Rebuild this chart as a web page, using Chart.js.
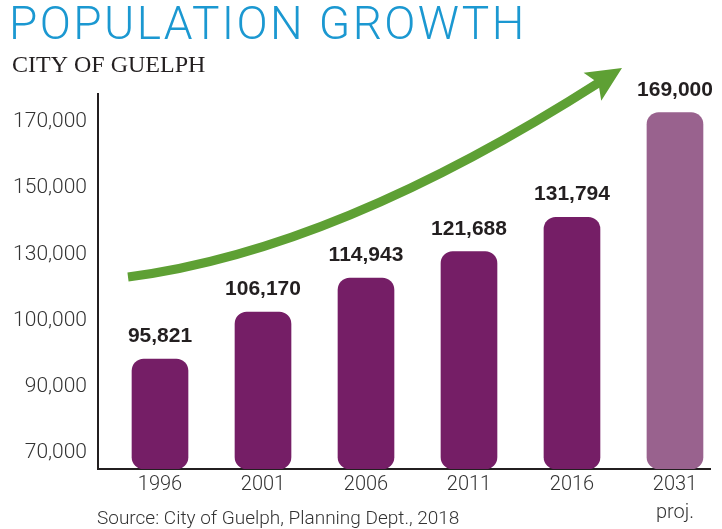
<!DOCTYPE html>
<html>
<head>
<meta charset="utf-8">
<title>Population Growth – City of Guelph</title>
<script src="https://cdn.jsdelivr.net/npm/chart.js@4"></script>
<style>
  html, body { margin: 0; padding: 0; background: #fff; overflow: hidden; }
  canvas { display: block; }
</style>
</head>
<body>
<canvas id="chart" width="722" height="529"></canvas>
<script>
const years = ['1996', '2001', '2006', '2011', '2016', '2031'];
const projected = [false, false, false, false, false, true];
const populations = [95821, 106170, 114943, 121688, 131794, 169000];
// bar tops as drawn in the infographic, in steps of the (uneven) y axis
const barLevels = [1.42, 2.13, 2.64, 3.04, 3.56, 5.14];
const yTickLabels = ['70,000', '90,000', '100,000', '130,000', '150,000', '170,000'];

const TITLE = 'POPULATION GROWTH';
const SUBTITLE = 'CITY OF GUELPH';
const SOURCE = 'Source: City of Guelph, Planning Dept., 2018';

const Y_MIN = -0.24;
const Y_MAX = 5.42;
const LIGHT = 'Roboto, "Liberation Sans", Arial, sans-serif';
const INK = '#231f20';

const headerPlugin = {
  id: 'header',
  afterDraw(chart) {
    const { ctx, chartArea } = chart;
    ctx.save();
    ctx.textAlign = 'left';
    ctx.textBaseline = 'alphabetic';
    ctx.fillStyle = '#1b98d1';
    ctx.font = `300 46px ${LIGHT}`;
    ctx.letterSpacing = '2.4px';
    ctx.fillText(TITLE, 9, 39);
    ctx.letterSpacing = '0px';
    ctx.fillStyle = INK;
    ctx.font = '24px "Liberation Serif", "Times New Roman", serif';
    ctx.fillText(SUBTITLE, 12, 72);
    ctx.fillStyle = '#333';
    ctx.font = `300 19px ${LIGHT}`;
    ctx.fillText(SOURCE, chartArea.left - 1, 524);
    ctx.restore();
  }
};

const valueLabels = {
  id: 'valueLabels',
  afterDatasetsDraw(chart) {
    const { ctx } = chart;
    ctx.save();
    ctx.font = 'bold 21px "Liberation Sans", Arial, sans-serif';
    ctx.fillStyle = INK;
    ctx.textAlign = 'center';
    ctx.textBaseline = 'alphabetic';
    chart.getDatasetMeta(0).data.forEach((bar, i) => {
      ctx.fillText(populations[i].toLocaleString('en-US'), bar.x, bar.y - 17);
    });
    ctx.restore();
  }
};

// decorative growth arrow
const arrowPlugin = {
  id: 'arrow',
  afterDraw(chart) {
    const { ctx } = chart;
    const tip = { x: 622, y: 68 };
    const dir = { x: 0.845, y: -0.535 };
    const base = { x: tip.x - dir.x * 35, y: tip.y - dir.y * 35 };
    const notch = { x: base.x + dir.x * 7, y: base.y + dir.y * 7 };
    const half = 16.5;
    ctx.save();
    ctx.strokeStyle = '#5ea034';
    ctx.fillStyle = '#5ea034';
    ctx.lineWidth = 9;
    ctx.lineCap = 'butt';
    ctx.beginPath();
    ctx.moveTo(128, 277);
    ctx.bezierCurveTo(300, 255, 470, 165, notch.x + dir.x * 2, notch.y + dir.y * 2);
    ctx.stroke();
    ctx.beginPath();
    ctx.moveTo(tip.x, tip.y);
    ctx.lineTo(base.x - dir.y * half, base.y + dir.x * half);
    ctx.lineTo(notch.x, notch.y);
    ctx.lineTo(base.x + dir.y * half, base.y - dir.x * half);
    ctx.closePath();
    ctx.fill();
    ctx.restore();
  }
};

new Chart(document.getElementById('chart'), {
  type: 'bar',
  data: {
    datasets: [{
      data: barLevels.map((v, i) => ({ x: i, y: v })),
      base: Y_MIN,
      backgroundColor: projected.map(p => p ? '#99628e' : '#751e66'),
      borderRadius: 12,
      borderSkipped: false,
      barThickness: 56,
    }],
  },
  options: {
    responsive: false,
    animation: false,
    layout: { padding: { top: 94, right: 12, bottom: 0, left: 0 } },
    plugins: { legend: { display: false }, tooltip: { enabled: false } },
    scales: {
      x: {
        type: 'linear',
        offset: false,
        min: -0.602,
        max: 5.34,
        z: 1,
        afterBuildTicks: (s) => { s.ticks = years.map((_, i) => ({ value: i })); },
        afterFit: (s) => { s.height = 60; },
        grid: { display: false, drawTicks: false },
        border: { color: INK, width: 2 },
        ticks: {
          padding: 2,
          color: '#333',
          autoSkip: false,
          maxRotation: 0,
          font: { family: LIGHT, size: 20, weight: 300, lineHeight: 1.4 },
          callback: (v) => projected[v] ? [years[v], 'proj.'] : years[v],
        },
      },
      y: {
        min: Y_MIN,
        max: Y_MAX,
        z: 1,
        afterBuildTicks: (s) => { s.ticks = yTickLabels.map((_, i) => ({ value: i })); },
        afterFit: (s) => { s.width = 98; },
        grid: { display: false, drawTicks: false },
        border: { color: INK, width: 2 },
        ticks: {
          padding: 11,
          color: '#333',
          font: { family: LIGHT, size: 21, weight: 300 },
          callback: (v) => yTickLabels[v],
        },
      },
    },
  },
  plugins: [arrowPlugin, valueLabels, headerPlugin],
});
</script>
</body>
</html>
